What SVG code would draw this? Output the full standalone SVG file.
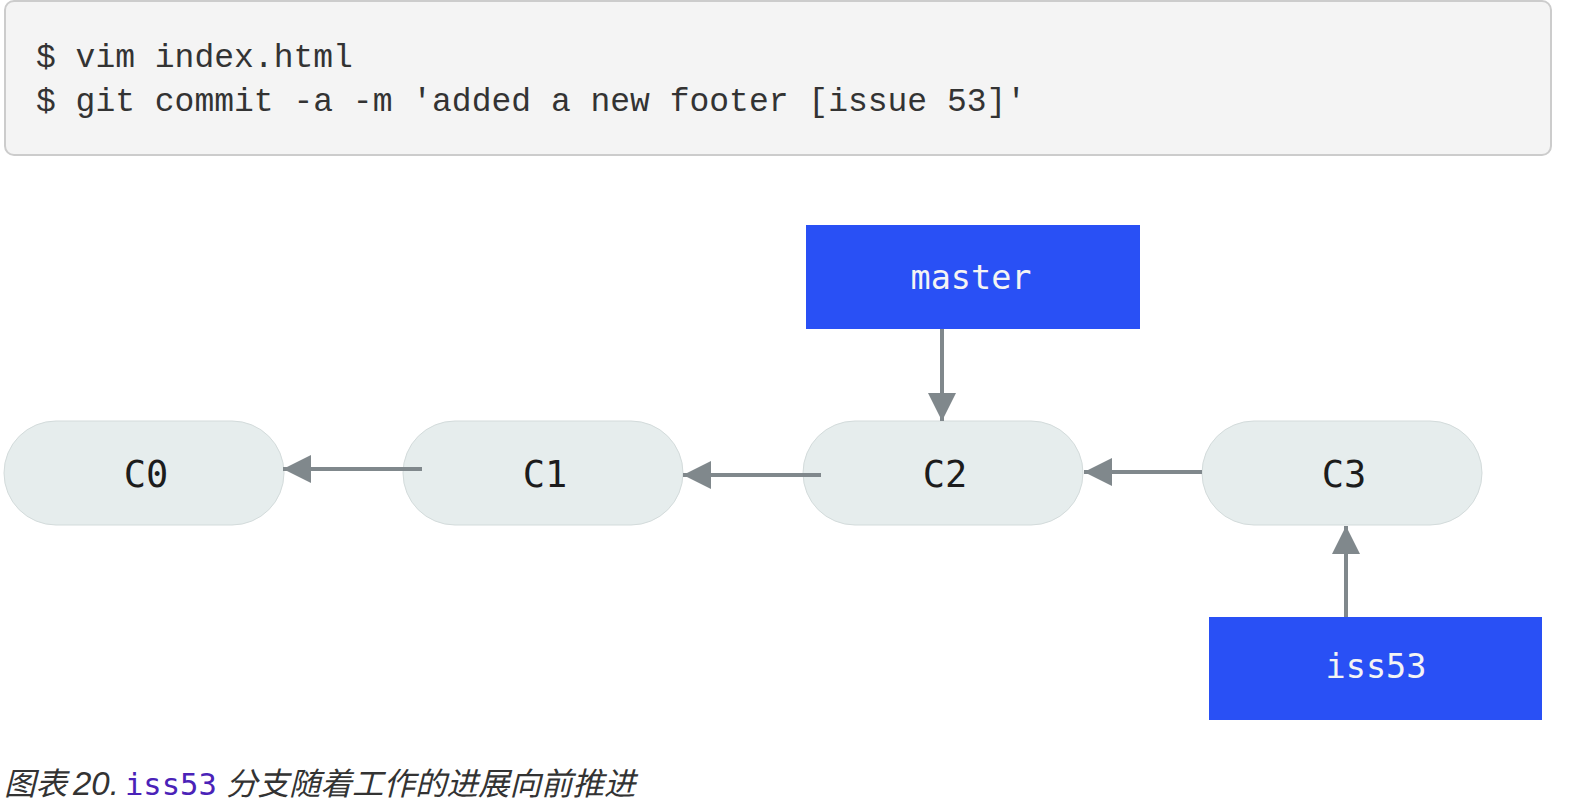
<svg xmlns="http://www.w3.org/2000/svg" width="1593" height="812" viewBox="0 0 1593 812">
<style>
.code{font-family:"Liberation Mono","DejaVu Sans Mono",monospace;font-size:33px;fill:#333333}
.commit rect{fill:#e6eded;stroke:#d3dbdb;stroke-width:1}
.commit text{font-family:"DejaVu Sans Mono","Liberation Mono",monospace;font-size:37px;fill:#1c1c1c;text-anchor:middle}
.branch rect{fill:#2950f5}
.branch text{font-family:"DejaVu Sans Mono","Liberation Mono",monospace;font-size:33.5px;fill:#f4f4f4;text-anchor:middle}
.conn line{stroke:#80888c;stroke-width:4;marker-end:url(#ah)}
.cap{font-family:"Liberation Sans","Noto Sans CJK SC",sans-serif;font-size:31.5px;font-style:italic;fill:#333333}
.capnum{font-size:33px}
.capcode{font-family:"DejaVu Sans Mono","Liberation Mono",monospace;font-style:normal;font-size:30.5px;fill:#4a22b8}
</style>
<defs>
<marker id="ah" markerWidth="28" markerHeight="28" refX="28" refY="14" orient="auto" markerUnits="userSpaceOnUse" viewBox="0 0 28 28">
<path d="M0,0 L28,14 L0,28 Z" fill="#80888c"/>
</marker>
</defs>
<rect width="1593" height="812" fill="#ffffff"/>
<g id="codeblock">
<rect x="5" y="1" width="1546" height="154" rx="9" fill="#f4f4f4" stroke="#cccccc" stroke-width="2"/>
<text class="code" x="36" y="67">$ vim index.html</text>
<text class="code" x="36" y="111">$ git commit -a -m 'added a new footer [issue 53]'</text>
</g>
<g id="C0" class="commit"><rect x="4" y="421" width="280" height="104" rx="52"/><text x="146" y="487">C0</text></g>
<g id="C1" class="commit"><rect x="403" y="421" width="280" height="104" rx="52"/><text x="545" y="487">C1</text></g>
<g id="C2" class="commit"><rect x="803" y="421" width="280" height="104" rx="52"/><text x="945" y="487">C2</text></g>
<g id="C3" class="commit"><rect x="1202" y="421" width="280" height="104" rx="52"/><text x="1344" y="487">C3</text></g>
<g id="master" class="branch"><rect x="806" y="225" width="334" height="104"/><text x="971" y="289">master</text></g>
<g id="iss53" class="branch"><rect x="1209" y="617" width="333" height="103"/><text x="1376" y="678">iss53</text></g>
<g id="connectors" class="conn">
<line x1="942" y1="329" x2="942" y2="421"/>
<line x1="1202" y1="472" x2="1084" y2="472"/>
<line x1="821" y1="475" x2="683" y2="475"/>
<line x1="422" y1="469" x2="283" y2="469"/>
<line x1="1346" y1="617" x2="1346" y2="526"/>
</g>
<g id="caption">
<text class="cap" y="795"><tspan x="4">图表</tspan><tspan class="capnum" x="73">20.</tspan><tspan class="capcode" x="125">iss53</tspan><tspan x="226">分支随着工作的进展向前推进</tspan></text>
</g>
</svg>
